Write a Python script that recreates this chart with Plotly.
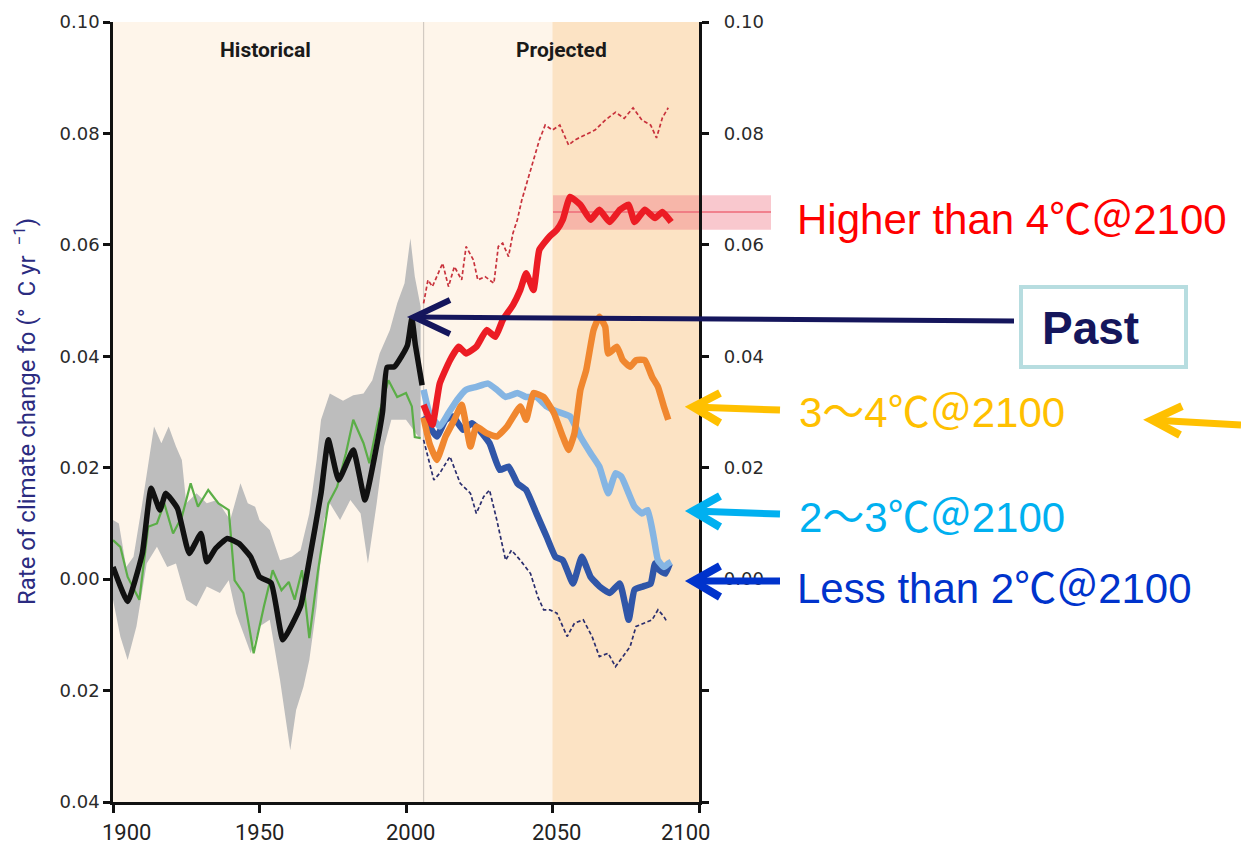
import plotly.graph_objects as go

# ---------------- data ----------------
x_ticks = [1900, 1950, 2000, 2050, 2100]
x_ticktext = ["1900", "1950", "2000", "2050", "2100"]
y_ticks = [-0.04, -0.02, 0.00, 0.02, 0.04, 0.06, 0.08, 0.10]
y_ticktext_left = ["0.04", "0.02", "0.00", "0.02", "0.04", "0.06", "0.08", "0.10"]
y_ticktext_right = [" ", " ", "0.00", "0.02", "0.04", "0.06", "0.08", "0.10"]

# observed (historical) rate – black
obs_years = [1900, 1905, 1910, 1913, 1916, 1918, 1922, 1926, 1930, 1932, 1935, 1939, 1943, 1947,
             1950, 1954, 1958, 1964, 1967, 1971, 1973.5, 1977, 1982, 1986, 1989.5, 1992, 1993.5,
             1996, 1998.5, 2000.5, 2002, 2003.2, 2005.5]
obs_vals = [0.0022, -0.0040, 0.0046, 0.0163, 0.0124, 0.0154, 0.0127, 0.0046, 0.0082, 0.0031,
            0.0055, 0.0073, 0.0064, 0.0040, 0.0004, -0.0007, -0.0109, -0.0049, 0.0034, 0.0154,
            0.0250, 0.0178, 0.0232, 0.0142, 0.0226, 0.0300, 0.0380, 0.0381, 0.0400, 0.0420,
            0.0468, 0.0420, 0.0348]

# model (historical) rate – green
mod_years = [1900, 1902.5, 1905, 1909, 1912, 1915, 1917.5, 1920.5, 1923.5, 1926.5, 1929, 1932.5,
             1936, 1939.5, 1941.5, 1944.5, 1948, 1951.5, 1954.5, 1957.5, 1960, 1962, 1964.5,
             1967, 1970, 1973.5, 1976.5, 1979.5, 1982, 1985.5, 1987.5, 1991, 1994, 1997, 2000,
             2002, 2003, 2005]
mod_vals = [0.0070, 0.0058, 0.0004, -0.0037, 0.0094, 0.0100, 0.0136, 0.0082, 0.0112, 0.0172,
            0.0130, 0.0160, 0.0136, 0.0124, -0.0002, -0.0025, -0.0133, -0.0049, 0.0016, -0.0020,
            -0.0005, -0.0037, 0.0016, -0.0106, 0.0016, 0.0136, 0.0166, 0.0226, 0.0286, 0.0244,
            0.0208, 0.0300, 0.0357, 0.0327, 0.0334, 0.0310, 0.0255, 0.0253]

# uncertainty range (historical) – grey band
band_up_years = [1900, 1902, 1904.5, 1907, 1910, 1914, 1916.5, 1919, 1921.5, 1923.5, 1925, 1928.5,
                 1932, 1935.5, 1940, 1943.5, 1946, 1948.5, 1950, 1953.5, 1957, 1961, 1964, 1967,
                 1969.5, 1971, 1974, 1978.5, 1982, 1985.5, 1988.5, 1991, 1994.5, 1997, 1999.5,
                 2001.5, 2003, 2005]
band_up_vals = [0.0106, 0.0100, 0.0022, 0.0040, 0.0136, 0.0274, 0.0244, 0.0274, 0.0238, 0.0214,
                0.0136, 0.0154, 0.0136, 0.0142, 0.0106, 0.0172, 0.0136, 0.0130, 0.0106, 0.0088,
                0.0034, 0.0040, 0.0052, 0.0118, 0.0214, 0.0286, 0.0333, 0.0320, 0.0330, 0.0333,
                0.0357, 0.0405, 0.0447, 0.0495, 0.0531, 0.0612, 0.0543, 0.0489]
band_lo_years = [1900, 1902.5, 1905, 1908, 1911.5, 1915, 1918.5, 1921.5, 1925, 1928.5, 1932,
                 1936.5, 1939.5, 1942, 1944.5, 1947, 1950, 1953.5, 1957, 1960.5, 1962.5, 1965,
                 1967, 1969.5, 1972, 1974, 1977.5, 1981, 1984.5, 1987, 1990, 1992.5, 1995, 2000,
                 2005]
band_lo_vals = [-0.0037, -0.0103, -0.0145, -0.0085, 0.0028, 0.0058, 0.0022, 0.0028, -0.0037,
                -0.0049, -0.0013, -0.0025, -0.0002, -0.0061, -0.0097, -0.0133, -0.0085, -0.0073,
                -0.0181, -0.0307, -0.0235, -0.0193, -0.0145, -0.0049, 0.0106, 0.0136, 0.0106,
                0.0142, 0.0118, 0.0028, 0.0136, 0.0238, 0.0286, 0.0286, 0.0250]

# projections
red_years = [2006, 2009, 2011.5, 2015, 2018, 2020.5, 2024, 2027.5, 2030.5, 2033, 2036.5, 2039,
             2041, 2043.5, 2045.5, 2049, 2051.5, 2053.5, 2056, 2059.5, 2063, 2066, 2069.5, 2073,
             2076, 2078, 2081.5, 2085, 2087.5, 2090.5]
red_vals = [0.0313, 0.0277, 0.0351, 0.0393, 0.0417, 0.0405, 0.0417, 0.0447, 0.0435, 0.0465,
            0.0492, 0.0519, 0.0549, 0.0519, 0.0591, 0.0615, 0.0627, 0.0645, 0.0686, 0.0672,
            0.0645, 0.0663, 0.0641, 0.0663, 0.0672, 0.0641, 0.0663, 0.0648, 0.0659, 0.0641]

red_hi_years = [2006, 2007.5, 2009, 2011, 2012.5, 2014.5, 2016.5, 2019, 2020.5, 2023, 2024.5, 2027,
                2030, 2031.5, 2033, 2035, 2036.5, 2038, 2039.5, 2042.5, 2045.5, 2047.5, 2050,
                2052.5, 2055.5, 2057.5, 2061, 2064.5, 2068, 2071.5, 2074.5, 2077.5, 2080.5, 2083.5,
                2085.5, 2087.5, 2089.5]
red_hi_vals = [0.0495, 0.0537, 0.0525, 0.0549, 0.0567, 0.0525, 0.0561, 0.0537, 0.0597, 0.0573,
               0.0537, 0.0543, 0.0531, 0.0597, 0.0603, 0.0579, 0.0621, 0.0645, 0.0680, 0.0734,
               0.0788, 0.0815, 0.0806, 0.0815, 0.0779, 0.0788, 0.0797, 0.0806, 0.0824, 0.0838,
               0.0827, 0.0846, 0.0824, 0.0815, 0.0792, 0.0828, 0.0846]

orange_years = [2006, 2008, 2010.5, 2013.5, 2016.5, 2019, 2022, 2024, 2027.5, 2031, 2034.5, 2039,
                2041, 2043.5, 2047, 2050.5, 2053.5, 2055.5, 2057.5, 2059.5, 2061.5, 2064, 2066,
                2068, 2069, 2072, 2074, 2076.5, 2078.5, 2081.5, 2084, 2086, 2088, 2089.5]
orange_vals = [0.0290, 0.0244, 0.0214, 0.0256, 0.0286, 0.0313, 0.0238, 0.0274, 0.0262, 0.0256,
               0.0274, 0.0310, 0.0286, 0.0334, 0.0327, 0.0298, 0.0256, 0.0232, 0.0262, 0.0339,
               0.0375, 0.0447, 0.0471, 0.0453, 0.0405, 0.0417, 0.0393, 0.0381, 0.0393, 0.0393,
               0.0363, 0.0345, 0.0310, 0.0286]

lblue_years = [2006, 2008, 2011.5, 2014.5, 2017.5, 2020.5, 2024, 2028, 2031, 2034, 2038, 2041,
               2044.5, 2048, 2051.5, 2056, 2059.5, 2063, 2066, 2069, 2071.5, 2073.5, 2076, 2078,
               2080.5, 2082.5, 2084.5, 2086, 2088, 2089.5, 2090.5]
lblue_vals = [0.0340, 0.0298, 0.0274, 0.0298, 0.0322, 0.0340, 0.0345, 0.0351, 0.0340, 0.0327,
              0.0334, 0.0327, 0.0327, 0.0310, 0.0301, 0.0292, 0.0256, 0.0226, 0.0202, 0.0154,
              0.0190, 0.0184, 0.0154, 0.0130, 0.0118, 0.0124, 0.0076, 0.0034, 0.0022, 0.0028,
              0.0031]

dblue_years = [2006, 2010.5, 2013.5, 2016, 2019.5, 2022.5, 2025, 2028.5, 2032, 2035, 2038, 2041,
               2044.5, 2048, 2051, 2053.5, 2057, 2060, 2063, 2066, 2069.5, 2073, 2076, 2078,
               2081, 2083.5, 2085, 2086.5, 2088.5, 2090]
dblue_vals = [0.0292, 0.0256, 0.0286, 0.0292, 0.0268, 0.0280, 0.0268, 0.0244, 0.0196, 0.0202,
              0.0172, 0.0160, 0.0118, 0.0076, 0.0040, 0.0034, -0.0008, 0.0040, 0.0004, -0.0013,
              -0.0025, -0.0008, -0.0073, -0.0019, -0.0013, -0.0008, 0.0028, 0.0016, 0.0010,
              0.0028]

navy_lo_years = [2006, 2009.5, 2011.5, 2015, 2018.5, 2022, 2024, 2026.5, 2028.5, 2031, 2034,
                 2036, 2039, 2042.5, 2045, 2047, 2049, 2051.5, 2055, 2057.5, 2060.5, 2063.5, 2066,
                 2069, 2071.5, 2074, 2076.5, 2078.5, 2081.5, 2084, 2086, 2088, 2089]
navy_lo_vals = [0.0250, 0.0178, 0.0190, 0.0220, 0.0172, 0.0154, 0.0118, 0.0148, 0.0160, 0.0106,
                0.0034, 0.0052, 0.0034, 0.0010, -0.0032, -0.0055, -0.0055, -0.0061, -0.0103,
                -0.0079, -0.0073, -0.0103, -0.0139, -0.0133, -0.0157, -0.0139, -0.0121, -0.0085,
                -0.0079, -0.0073, -0.0055, -0.0067, -0.0076]

hot_band = [0.0627, 0.0689]   # red range at the end of century
hot_mid = 0.0659

# ---------------- layout helpers ----------------
# reference pixel frame (window 1249x866); the page body adds an 8 px offset
OFF = 8
W, H = 1249 - OFF, 866 - OFF
PL, PR, PT, PB = 113, 699, 22, 802


def fx(px):
    return (px - PL) / (PR - PL)


def fy(py):
    return (PB - py) / (PB - PT)


fig = go.Figure()

fig.add_trace(go.Scatter(
    x=band_up_years + band_lo_years[::-1], y=band_up_vals + band_lo_vals[::-1],
    fill="toself", fillcolor="#BDBDBD", line=dict(width=0), mode="lines",
    hoverinfo="skip", showlegend=False))
fig.add_trace(go.Scatter(x=mod_years, y=mod_vals, mode="lines",
                         line=dict(color="#5BAE47", width=2.2), showlegend=False))
fig.add_trace(go.Scatter(x=obs_years, y=obs_vals, mode="lines",
                         line=dict(color="#111111", width=5.5, shape="spline", smoothing=0.4),
                         showlegend=False))

fig.add_trace(go.Scatter(x=navy_lo_years, y=navy_lo_vals, mode="lines", yaxis="y2",
                         line=dict(color="#2B2E6E", width=1.7, dash="4px,2.5px"),
                         showlegend=False))
fig.add_trace(go.Scatter(x=red_hi_years, y=red_hi_vals, mode="lines", yaxis="y2",
                         line=dict(color="#C8323C", width=1.7, dash="4px,2.5px"),
                         showlegend=False))
fig.add_trace(go.Scatter(x=dblue_years, y=dblue_vals, mode="lines", yaxis="y2",
                         line=dict(color="#3056A8", width=6.5, shape="spline", smoothing=0.4),
                         showlegend=False))
fig.add_trace(go.Scatter(x=lblue_years, y=lblue_vals, mode="lines", yaxis="y2",
                         line=dict(color="#85B5E3", width=6.5, shape="spline", smoothing=0.4),
                         showlegend=False))
fig.add_trace(go.Scatter(x=orange_years, y=orange_vals, mode="lines", yaxis="y2",
                         line=dict(color="#F0872F", width=6.5, shape="spline", smoothing=0.4),
                         showlegend=False))
fig.add_trace(go.Scatter(x=red_years, y=red_vals, mode="lines", yaxis="y2",
                         line=dict(color="#EC1C24", width=6.5, shape="spline", smoothing=0.4),
                         showlegend=False))

shapes = [
    dict(type="rect", xref="x", yref="paper", x0=1900, x1=2050, y0=0, y1=1,
         fillcolor="#FEF5EA", line=dict(width=0), layer="below"),
    dict(type="rect", xref="x", yref="paper", x0=2050, x1=2100, y0=0, y1=1,
         fillcolor="#FCE3C4", line=dict(width=0), layer="below"),
    dict(type="line", xref="x", yref="paper", x0=2006, x1=2006, y0=0, y1=1,
         line=dict(color="#D2CAC2", width=1.2), layer="below"),
    dict(type="rect", xref="paper", yref="y", x0=fx(553), x1=fx(771),
         y0=hot_band[0], y1=hot_band[1],
         fillcolor="rgba(240,110,125,0.38)", line=dict(width=0), layer="below"),
    dict(type="line", xref="paper", yref="y", x0=fx(553), x1=fx(771), y0=hot_mid, y1=hot_mid,
         line=dict(color="#EE6A78", width=1.5), layer="below"),
    # Past box
    dict(type="rect", xref="paper", yref="paper", x0=fx(1021), x1=fx(1186),
         y0=fy(367), y1=fy(287), fillcolor="white", line=dict(color="#B7DDE0", width=4)),
]


def arrow(tip, tail, arm1, arm2, color, width):
    out = [dict(type="line", xref="paper", yref="paper",
                x0=fx(tail[0]), y0=fy(tail[1]), x1=fx(tip[0]), y1=fy(tip[1]),
                line=dict(color=color, width=width))]
    path = "M {:.5f},{:.5f} L {:.5f},{:.5f} L {:.5f},{:.5f}".format(
        fx(arm1[0]), fy(arm1[1]), fx(tip[0]), fy(tip[1]), fx(arm2[0]), fy(arm2[1]))
    out.append(dict(type="path", xref="paper", yref="paper", path=path,
                    line=dict(color=color, width=width + 1)))
    return out


shapes += arrow((414, 317), (1014, 321), (450, 300), (450, 334), "#15165C", 5)
shapes += arrow((693, 407), (780, 410), (720, 393), (720, 423), "#FFC000", 7)
shapes += arrow((1152, 420), (1241, 425), (1182, 406), (1180, 435), "#FFC000", 7)
shapes += arrow((693, 511), (780, 514), (720, 496), (720, 527), "#00B0F0", 7)
shapes += arrow((693, 581), (780, 581), (720, 566), (720, 597), "#0033CC", 7)

label_font = "Liberation Sans, Arial, Noto Sans CJK JP, sans-serif"
narrow_font = "Liberation Sans Narrow, Arial Narrow, Roboto, sans-serif"

annotations = [
    dict(text="<b>Historical</b>", xref="x", yref="paper", x=1952, y=fy(50),
         xanchor="center", yanchor="middle", showarrow=False,
         font=dict(family=narrow_font, size=21, color="#1a1a1a")),
    dict(text="<b>Projected</b>", xref="x", yref="paper", x=2053, y=fy(50),
         xanchor="center", yanchor="middle", showarrow=False,
         font=dict(family=narrow_font, size=21, color="#1a1a1a")),
    dict(text="Higher than 4℃＠2100", xref="paper", yref="paper", x=fx(795), y=fy(219),
         xanchor="left", yanchor="middle", showarrow=False,
         font=dict(family=label_font, size=42, color="#FF0000")),
    dict(text="<b>Past</b>", xref="paper", yref="paper", x=fx(1090), y=fy(328),
         xanchor="center", yanchor="middle", showarrow=False,
         font=dict(family=label_font, size=46, color="#15165C")),
    dict(text="3～4℃＠2100", xref="paper", yref="paper", x=fx(797), y=fy(412),
         xanchor="left", yanchor="middle", showarrow=False,
         font=dict(family=label_font, size=42, color="#FFC000")),
    dict(text="2～3℃＠2100", xref="paper", yref="paper", x=fx(797), y=fy(518),
         xanchor="left", yanchor="middle", showarrow=False,
         font=dict(family=label_font, size=42, color="#00B0F0")),
    dict(text="Less than 2℃＠2100", xref="paper", yref="paper", x=fx(795), y=fy(588),
         xanchor="left", yanchor="middle", showarrow=False,
         font=dict(family=label_font, size=42, color="#0033CC")),
    dict(text="Rate of climate change fo (°  C yr <sup> −1</sup>)", xref="paper", yref="paper",
         x=fx(25), y=fy(412), xanchor="center", yanchor="middle", textangle=-90,
         showarrow=False, font=dict(family=narrow_font, size=24, color="#2B2B80")),
]

# x tick labels (end labels sit inward of their ticks, as in the reference)
x_label_shift = [13, 0, 4, 4, -14]
for xv, xt, sh in zip(x_ticks, x_ticktext, x_label_shift):
    annotations.append(dict(text=xt, xref="x", yref="paper", x=xv, y=0, xshift=sh, yshift=-16,
                            xanchor="center", yanchor="top", showarrow=False,
                            font=dict(family=narrow_font, size=22, color="#222222")))

axis_common = dict(showgrid=False, zeroline=False, showline=True, linecolor="#111111",
                   linewidth=2.5, ticks="outside", tickcolor="#111111", tickwidth=2.5,
                   automargin=False)
ytick_font = dict(family="DejaVu Sans, Verdana, sans-serif", size=18, color="#2a2a2a")

fig.update_layout(
    width=W, height=H, autosize=False,
    margin=dict(l=PL - OFF, r=(W + OFF) - PR, t=PT - OFF, b=(H + OFF) - PB, pad=0),
    paper_bgcolor="white", plot_bgcolor="#FEF5EA",
    showlegend=False,
    xaxis=dict(range=[1900, 2100], tickvals=x_ticks, ticklen=8, showticklabels=False,
               **axis_common),
    yaxis=dict(range=[-0.04, 0.10], tickvals=y_ticks, ticktext=y_ticktext_left, ticklen=7,
               tickfont=ytick_font, **axis_common),
    yaxis2=dict(range=[-0.04, 0.10], tickvals=y_ticks,
                ticktext=["\u00a0\u00a0" + t if t.strip() else t for t in y_ticktext_right],
                ticklen=7, overlaying="y", side="right", tickfont=ytick_font,
                **axis_common),
    shapes=shapes,
    annotations=annotations,
)

fig.write_html("out.html")
